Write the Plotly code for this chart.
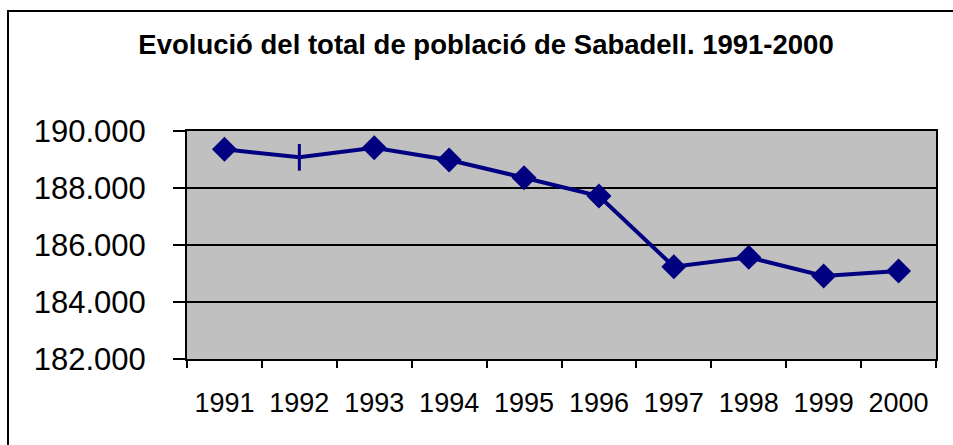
import plotly.graph_objects as go

# Population of Sabadell, 1991-2000
years = ["1991", "1992", "1993", "1994", "1995", "1996", "1997", "1998", "1999", "2000"]
population = [189358, 189077, 189414, 188982, 188361, 187719, 185239, 185567, 184912, 185088]
marker_symbols = ["diamond", "line-ns", "diamond", "diamond", "diamond",
                  "diamond", "diamond", "diamond", "diamond", "diamond"]
marker_sizes = [16, 19, 16, 16, 16, 16, 16, 16, 16, 16]
y_ticks = [182000, 184000, 186000, 188000, 190000]

navy = "#000080"
W, H = 953, 445
L, R, T, B = 187, 17, 131, 86
pw, ph = W - L - R, H - T - B

fig = go.Figure()
fig.add_trace(go.Scatter(
    x=years, y=population, mode="lines+markers",
    line=dict(color=navy, width=4),
    marker=dict(symbol=marker_symbols, size=marker_sizes, color=navy, opacity=1,
                line=dict(color=navy, width=3)),
    showlegend=False, cliponaxis=False,
))

# outer chart frame (right and bottom edges fall outside the page)
fig.add_shape(type="rect", xref="paper", yref="paper",
              x0=(8 - L) / pw, x1=(W + 20 - L) / pw,
              y0=-1.0, y1=(T + ph - 11) / ph,
              line=dict(color="black", width=2), fillcolor="rgba(0,0,0,0)",
              layer="below")

fig.update_layout(
    width=W, height=H,
    margin=dict(l=L, r=R, t=T, b=B),
    paper_bgcolor="white", plot_bgcolor="#C0C0C0",
    separators=",.",
    title=dict(text="<b>Evolució del total de població de Sabadell. 1991-2000</b>",
               x=486 / W, xanchor="center", y=1 - 44 / H, yanchor="middle",
               font=dict(family="Liberation Sans, Arial", size=27.5, color="black")),
    font=dict(family="Liberation Sans, Arial", color="black"),
)
fig.update_xaxes(
    type="category", range=[-0.5, 9.5], tickson="boundaries",
    ticks="outside", ticklen=7, tickwidth=2, tickcolor="black",
    showline=True, linecolor="black", linewidth=2, mirror=True,
    showgrid=False, tickfont=dict(size=27), ticklabelstandoff=19,
)
fig.update_yaxes(
    range=[182000, 190000], tickvals=y_ticks, tickformat=",d",
    ticks="outside", ticklen=12, tickwidth=2, tickcolor="black",
    showline=True, linecolor="black", linewidth=2, mirror=True,
    showgrid=True, gridcolor="black", gridwidth=1.5,
    tickfont=dict(size=31), ticklabelstandoff=21, zeroline=False,
)

fig.write_html("out.html")
